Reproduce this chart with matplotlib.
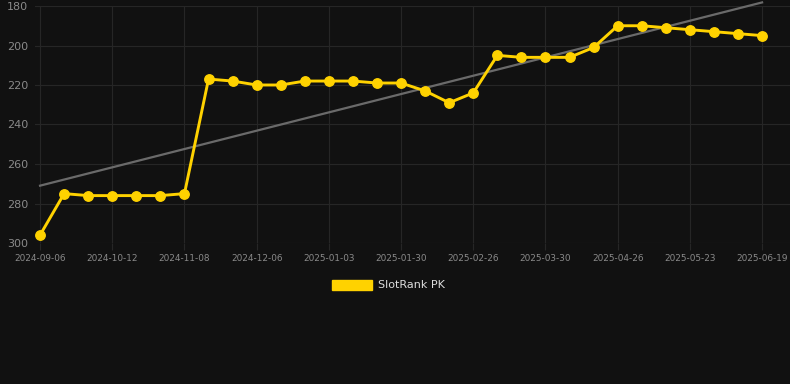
import numpy as np
import matplotlib
matplotlib.use('Agg')
import matplotlib.pyplot as plt
from matplotlib.patches import Patch

# 날짜 (카테고리 축)
dates = ['2024-09-06', '2024-09-18', '2024-09-30', '2024-10-12', '2024-10-21', '2024-10-30',
         '2024-11-08', '2024-11-17', '2024-11-27', '2024-12-06', '2024-12-15', '2024-12-24',
         '2025-01-03', '2025-01-12', '2025-01-21', '2025-01-30', '2025-02-08', '2025-02-17',
         '2025-02-26', '2025-03-08', '2025-03-19', '2025-03-30', '2025-04-08', '2025-04-17',
         '2025-04-26', '2025-05-05', '2025-05-14', '2025-05-23', '2025-06-01', '2025-06-10',
         '2025-06-19']
rank = [296, 275, 276, 276, 276, 276, 275, 217, 218, 220, 220, 218, 218, 218, 219, 219,
        223, 229, 224, 205, 206, 206, 206, 201, 190, 190, 191, 192, 193, 194, 195]
yticks = [180, 200, 220, 240, 260, 280, 300]
series_name = 'SlotRank PK'

bg = '#111111'
grid_c = '#262626'
yellow = '#FFD200'

fig = plt.figure(figsize=(7.9, 3.84), dpi=100, facecolor=bg)
ax = fig.add_axes([35 / 790, 1 - 243 / 384, 755 / 790, 237 / 384])
ax.set_facecolor(bg)

x = np.arange(len(dates))

# 추세선
coef = np.polyfit(x, rank, 1)
ax.plot(x, np.polyval(coef, x), color='#6a6a6a', lw=1.6, zorder=2, clip_on=False)

ax.plot(x, rank, color=yellow, lw=2.1, marker='o', markersize=6.8, zorder=3, clip_on=False)

ax.set_ylim(300, 180)
ax.set_yticks(yticks)
ax.set_xlim(-0.21, 31.16)
ax.set_xticks(x[::3])
ax.set_xticklabels(dates[::3])

ax.grid(True, color=grid_c, lw=0.8)
for s in ax.spines.values():
    s.set_visible(False)
ax.tick_params(axis='x', colors=grid_c, length=5, labelcolor='#8a8a8a', labelsize=6.4, pad=3)
ax.tick_params(axis='y', length=0, labelcolor='#8a8a8a', labelsize=8, pad=5)

handle = Patch(facecolor=yellow, edgecolor=yellow)
fig.legend([handle], [series_name], loc='center', bbox_to_anchor=(0.492, 1 - 285 / 384),
           frameon=False, labelcolor='#dddddd', fontsize=8, handlelength=3.6,
           handleheight=1.0, handletextpad=0.5)

fig.savefig('out.png', dpi=100, facecolor=bg)
